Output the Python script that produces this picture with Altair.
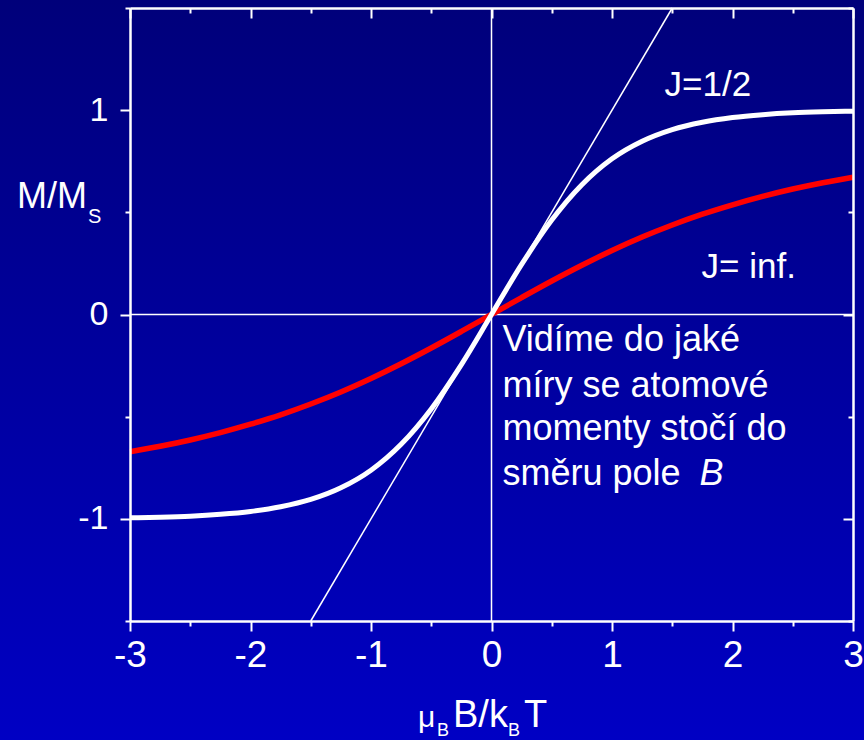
import altair as alt
import pandas as pd

# reduced field mu_B*B/(k_B*T)
field = [-3.0, -2.75, -2.5, -2.25, -2.0, -1.75, -1.5, -1.25, -1.0, -0.75, -0.5, -0.25,
         0.0, 0.25, 0.5, 0.75, 1.0, 1.25, 1.5, 1.75, 2.0, 2.25, 2.5, 2.75, 3.0]
# M/Ms for J = 1/2
m_half = [-0.995, -0.992, -0.987, -0.978, -0.964, -0.941, -0.905, -0.848, -0.762, -0.635, -0.462, -0.245,
          0.0, 0.245, 0.462, 0.635, 0.762, 0.848, 0.905, 0.941, 0.964, 0.978, 0.987, 0.992, 0.995]
# M/Ms for J = infinity
m_inf = [-0.672, -0.645, -0.614, -0.578, -0.537, -0.491, -0.438, -0.379, -0.313, -0.241, -0.164, -0.083,
         0.0, 0.083, 0.164, 0.241, 0.313, 0.379, 0.438, 0.491, 0.537, 0.578, 0.614, 0.645, 0.672]
# initial slope of the J = 1/2 curve
tangent_x = [-1.5, 1.5]
tangent_y = [-1.5, 1.5]

x_major = [-3, -2, -1, 0, 1, 2, 3]
x_minor = [-2.5, -1.5, -0.5, 0.5, 1.5, 2.5]
y_major = [-1, 0, 1]
y_minor = [-1.5, -0.5, 0.5, 1.5]

note_lines = ["Vidíme do jaké", "míry se atomové", "momenty stočí do", "směru pole"]

W, H = 723, 613
FONT = "Liberation Sans"
WHITE = "#ffffff"

xs = alt.Scale(domain=[-3, 3], nice=False, zero=False)
ys = alt.Scale(domain=[-1.5, 1.5], nice=False, zero=False)

minus_fix = "datum.value < 0 ? '-' + abs(datum.value) : '' + datum.value"


def axis(orient, values, size, labels=False, domain=False, offset=0, font_size=34, pad=10):
    kw = dict(orient=orient, values=values, tickSize=size, tickWidth=2, tickColor=WHITE,
              domain=domain, domainColor=WHITE, domainWidth=2.5, grid=False, title=None,
              labels=labels, zindex=1, offset=offset)
    if labels:
        kw.update(labelColor=WHITE, labelFont=FONT, labelFontSize=font_size, labelPadding=pad,
                  labelFlush=False, labelOverlap=False, labelBound=False, labelExpr=minus_fix)
    return alt.Axis(**kw)


curves = pd.DataFrame({"x": field, "half": m_half, "inf": m_inf})
tangent = pd.DataFrame({"x": tangent_x, "y": tangent_y})
zero = pd.DataFrame({"v": [0]})
one = pd.DataFrame({"a": [0]})

background = alt.Chart(one).mark_rect(
    color=alt.LinearGradient(
        gradient="linear",
        stops=[alt.GradientStop(color="#00007a", offset=0),
               alt.GradientStop(color="#0000c4", offset=1)],
        x1=0, x2=0, y1=0, y2=1,
    )
).encode(x=alt.value(-130), x2=alt.value(W + 11), y=alt.value(-8), y2=alt.value(H + 119))

vline = alt.Chart(zero).mark_rule(color=WHITE, strokeWidth=1.5).encode(
    x=alt.X("v:Q", scale=xs, axis=axis("bottom", x_major, 10, domain=True, offset=-H))
)
hline = alt.Chart(zero).mark_rule(color=WHITE, strokeWidth=1.5).encode(
    y=alt.Y("v:Q", scale=ys, axis=axis("left", y_major, 10, domain=True, offset=-W))
)
slope = alt.Chart(tangent).mark_line(color=WHITE, strokeWidth=1.5).encode(
    x=alt.X("x:Q", scale=xs, axis=axis("bottom", x_minor, 5, offset=-H)),
    y=alt.Y("y:Q", scale=ys, axis=axis("left", y_minor, 5, offset=-W)),
)
langevin = alt.Chart(curves).mark_line(color="#ff0000", strokeWidth=5.5, interpolate="monotone").encode(
    x=alt.X("x:Q", scale=xs, axis=axis("bottom", x_minor, 5)),
    y=alt.Y("inf:Q", scale=ys, axis=axis("left", y_minor, 5)),
)
brillouin = alt.Chart(curves).mark_line(color=WHITE, strokeWidth=5, interpolate="monotone").encode(
    x=alt.X("x:Q", scale=xs, axis=axis("bottom", x_major, 10, labels=True, domain=True,
                                        font_size=37, pad=6)),
    y=alt.Y("half:Q", scale=ys, axis=axis("left", y_major, 10, labels=True, domain=True,
                                          font_size=34, pad=12)),
)


def label(text, x, y, size=34, style="normal"):
    return alt.Chart(one).mark_text(
        text=text, font=FONT, fontSize=size, fontStyle=style, color=WHITE,
        align="left", baseline="alphabetic",
    ).encode(x=alt.X("xv:Q", scale=xs, axis=None), y=alt.Y("yv:Q", scale=ys, axis=None)).transform_calculate(
        xv=str(x), yv=str(y)
    )


def pixel_text(text, x, y, size):
    return alt.Chart(one).mark_text(
        text=text, font=FONT, fontSize=size, color=WHITE, align="left", baseline="alphabetic",
    ).encode(x=alt.value(x), y=alt.value(y))


texts = [
    label("J=1/2", 1.436, 1.069, 35),
    label("J= inf.", 1.743, 0.181, 35),
]
for line, yv in zip(note_lines, [-0.181, -0.402, -0.613, -0.833]):
    texts.append(label(line, 0.091, yv, 36))
texts.append(label("B", 1.726, -0.833, 36, "italic"))

titles = [
    pixel_text("M/M", -113, 200, 36),
    pixel_text("S", -42, 215, 20),
    pixel_text("μ", 288, 719, 30),
    pixel_text("B", 307, 728, 18),
    pixel_text("B/k", 323, 719, 38),
    pixel_text("B", 378, 728, 18),
    pixel_text("T", 394, 719, 38),
]

chart = alt.layer(
    background, vline, hline, slope, langevin, brillouin, *texts, *titles
).resolve_axis(x="independent", y="independent").properties(
    width=W, height=H,
    autosize=alt.AutoSizeParams(type="none"),
    padding={"left": 130, "top": 8, "right": 11, "bottom": 119},
).configure(background="#00009e").configure_view(stroke=None)

chart.save("out.html", embed_options={"renderer": "svg", "actions": False})
